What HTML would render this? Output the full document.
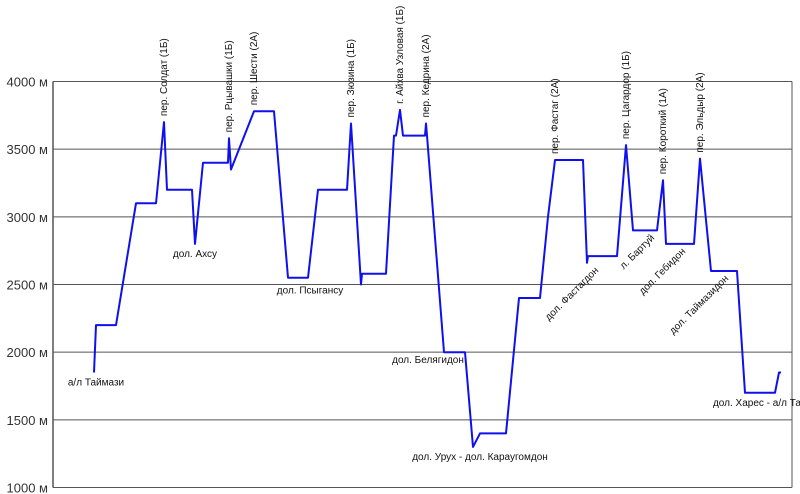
<!DOCTYPE html>
<html><head><meta charset="utf-8"><style>
body{margin:0;background:#fff;}
svg{display:block;font-family:"Liberation Sans",sans-serif;}
</style></head><body>
<svg id="chart" width="800" height="494" viewBox="0 0 800 494"></svg>
<script>
// Route distance (arbitrary units) and elevation (m)
const dist = [41,43,63,83,103,111,114,139,142,150,175,176,178,201,221,235,255,265,294,298,308,309,333,341,343,347,350,372,373,374,391,412,420,427,453,466,487,495,502,530,534,535,564,573,580,604,610,613,641,647,658,684,692,722,726,728];
const elev = [1850,2200,2200,3100,3100,3700,3200,3200,2800,3400,3400,3580,3350,3780,3780,2550,2550,3200,3200,3690,2500,2580,2580,3600,3600,3790,3600,3600,3690,3600,2000,2000,1300,1400,1400,2400,2400,3000,3420,3420,2660,2710,2710,3530,2900,2900,3270,2800,2800,3430,2600,2600,1700,1700,1850,1850];
const yTicks = [1000,1500,2000,2500,3000,3500,4000];
const peakLabels = ["пер. Солдат (1Б)","пер. Рцывашки (1Б)","пер. Шести (2А)","пер. Зюзина (1Б)","г. Айхва Узловая (1Б)","пер. Кедрина (2А)","пер. Фастаг (2А)","пер. Цагардор (1Б)","пер. Короткий (1А)","пер. Эльдыр (2А)"];
const peakIdx = [5,11,13,19,25,28,38,43,46,49];
const valleyLabels = ["а/л Таймази","дол. Ахсу","дол. Псыгансу","дол. Белягидон","дол. Урух - дол. Караугомдон","дол. Харес - а/л Таймази"];
const valleyIdx = [0,8,15,30,32,53];
const diagLabels = ["дол. Фастагдон","л. Бартуй","дол. Гебидон","дол. Таймазидон"];
const diagIdx = [40,44,47,50];
// label layout offsets (styling, not data)
const valleyDx = [2,0,22,-16,7,-4];
const valleyDy = [13,13,16,11,13,13];
const diagDx = [12,22,20,18];

const L=53,R=792,T=81.5,B=487.5;
const xs=d=>L+d;
const ys=v=>B-(v-1000)/3000*(B-T);
const svg=document.getElementById('chart');
const NS='http://www.w3.org/2000/svg';
function mk(tag,attrs,text){const e=document.createElementNS(NS,tag);for(const k in attrs)e.setAttribute(k,attrs[k]);if(text!==undefined)e.textContent=text;svg.appendChild(e);return e;}

yTicks.forEach(v=>{
  const g=mk('line',{x1:L,x2:R,y1:ys(v),y2:ys(v),stroke:'#555','stroke-width':1});
  
  
  const t=mk('text',{x:48,y:ys(v)+5,'text-anchor':'end','font-size':13,fill:'#333'},v+' м');
  
  
});
const ax=mk('line',{x1:L,x2:L,y1:T,y2:B,stroke:'#555','stroke-width':1.5});


const rb=mk('line',{x1:R,x2:R,y1:T,y2:B,stroke:'#555','stroke-width':1});



const pts=dist.map((d,i)=>xs(d).toFixed(1)+','+ys(elev[i]).toFixed(1)).join(' ');
const pl=mk('polyline',{points:pts,fill:'none',stroke:'#1010ee','stroke-width':2,'stroke-linejoin':'round'});



peakLabels.forEach((s,i)=>{
  const x=xs(dist[peakIdx[i]])+3, y=ys(elev[peakIdx[i]])-6;
  const t=mk('text',{x:x,y:y,'font-size':10,fill:'#111',transform:`rotate(-90 ${x} ${y})`},s);
  
  
});
valleyLabels.forEach((s,i)=>{
  const x=xs(dist[valleyIdx[i]])+valleyDx[i], y=ys(elev[valleyIdx[i]])+valleyDy[i];
  const t=mk('text',{x:x,y:y,'font-size':10,fill:'#111','text-anchor':'middle'},s);
  
  
});
diagLabels.forEach((s,i)=>{
  const x=xs(dist[diagIdx[i]])+diagDx[i], y=ys(elev[diagIdx[i]])+8;
  const t=mk('text',{x:x,y:y,'font-size':10,fill:'#111','text-anchor':'end',transform:`rotate(-45 ${x} ${y})`},s);
  
  
});
</script>
</body></html>
